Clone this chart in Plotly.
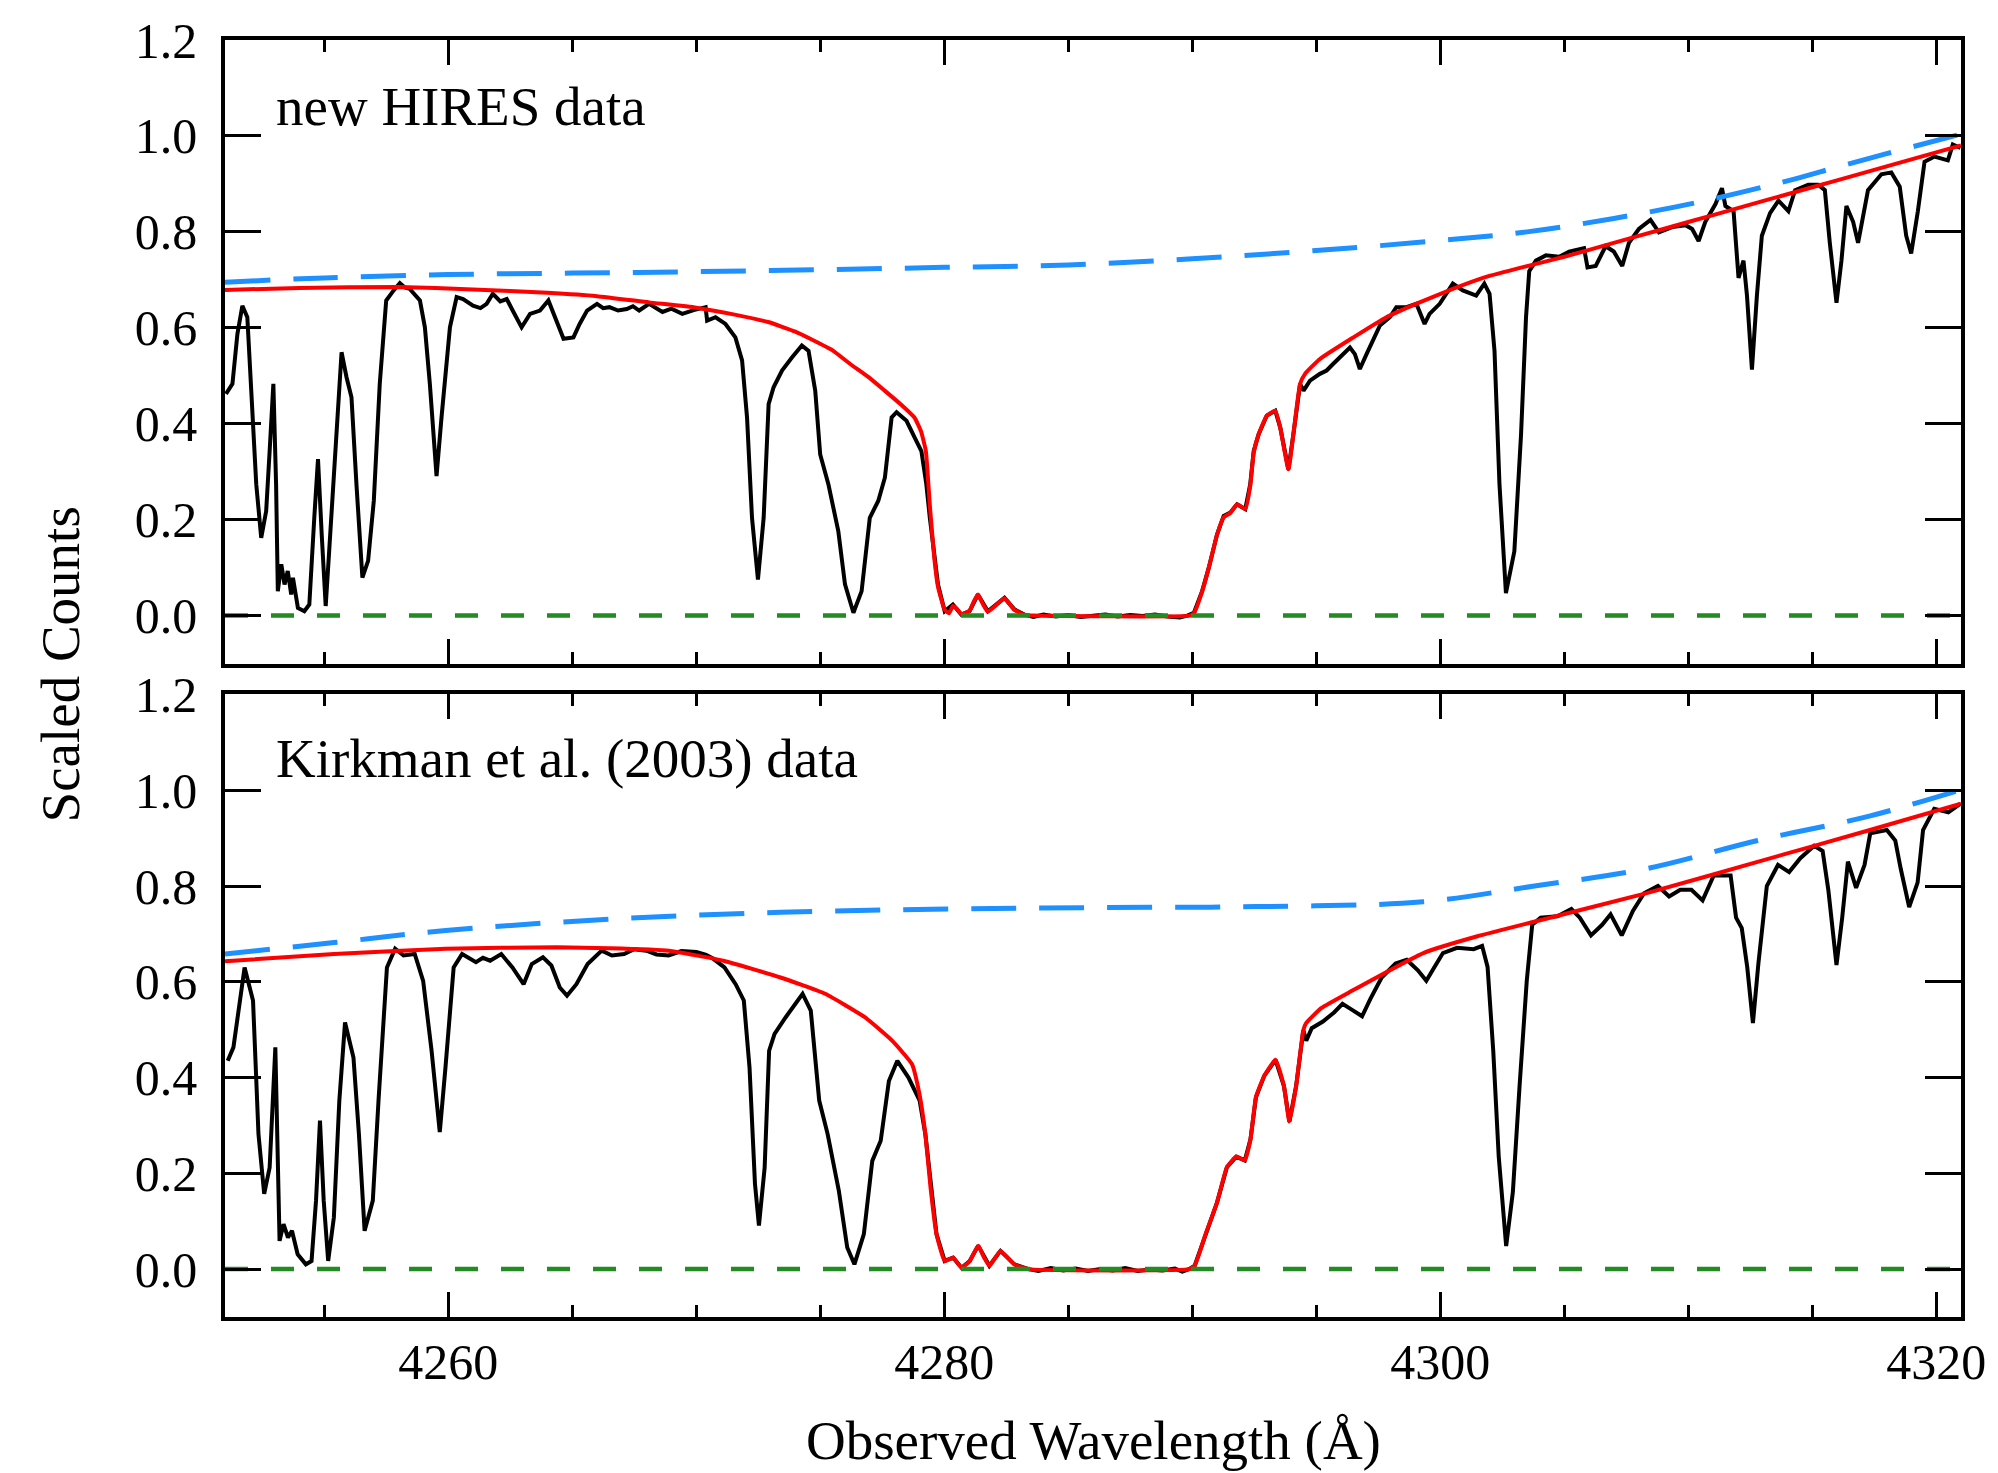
import plotly.graph_objects as go

# ---------------- data ----------------
# Top panel: new HIRES data
top_wave = [4251.04, 4251.30, 4251.50, 4251.70, 4251.90, 4252.10, 4252.26, 4252.46, 4252.66, 4252.80,
            4252.95, 4253.06, 4253.13, 4253.27, 4253.40, 4253.53, 4253.67, 4253.74, 4253.94, 4254.20,
            4254.40, 4254.60, 4254.75, 4254.90, 4255.06, 4255.20, 4255.40, 4255.70, 4255.90, 4256.10,
            4256.30, 4256.54, 4256.77, 4257.00, 4257.24, 4257.50, 4257.80, 4258.05, 4258.25, 4258.45,
            4258.86, 4259.06, 4259.26, 4259.53, 4259.73, 4260.07, 4260.34, 4260.60, 4261.00, 4261.30,
            4261.55, 4261.80, 4262.10, 4262.36, 4262.60, 4262.96, 4263.30, 4263.70, 4264.04, 4264.30,
            4264.65, 4265.05, 4265.30, 4265.60, 4266.00, 4266.25, 4266.50, 4266.85, 4267.20, 4267.45,
            4267.70, 4268.10, 4268.40, 4268.64, 4269.00, 4269.44, 4269.90, 4270.38, 4270.44, 4270.78,
            4271.18, 4271.58, 4271.85, 4272.05, 4272.25, 4272.49, 4272.72, 4272.92, 4273.12, 4273.46,
            4273.86, 4274.26, 4274.53, 4274.80, 4275.00, 4275.33, 4275.73, 4276.00, 4276.34, 4276.67,
            4277.00, 4277.34, 4277.61, 4277.88, 4278.08, 4278.48, 4278.81, 4279.08, 4279.28, 4279.42,
            4279.75, 4280.02, 4280.35, 4280.69, 4281.02, 4281.36, 4281.76, 4282.10, 4282.43, 4282.83,
            4283.23, 4283.60, 4284.00, 4284.50, 4285.00, 4285.50, 4286.00, 4286.50, 4287.00, 4287.50,
            4288.00, 4288.50, 4289.00, 4289.50, 4289.80, 4290.07, 4290.40, 4290.67, 4291.00, 4291.27,
            4291.54, 4291.81, 4292.14, 4292.34, 4292.48, 4292.68, 4293.01, 4293.35, 4293.55, 4293.88,
            4294.08, 4294.35, 4294.49, 4294.75, 4295.15, 4295.42, 4295.69, 4296.09, 4296.36, 4296.56,
            4296.76, 4297.03, 4297.30, 4297.57, 4297.97, 4298.23, 4298.64, 4299.04, 4299.37, 4299.57,
            4299.98, 4300.24, 4300.51, 4300.91, 4301.45, 4301.78, 4301.99, 4302.19, 4302.39, 4302.65,
            4302.99, 4303.26, 4303.46, 4303.59, 4303.86, 4304.26, 4304.80, 4305.20, 4305.80, 4305.94,
            4306.27, 4306.67, 4307.00, 4307.34, 4307.61, 4308.01, 4308.48, 4308.82, 4309.35, 4309.89,
            4310.16, 4310.42, 4310.69, 4311.10, 4311.36, 4311.50, 4311.83, 4312.03, 4312.23, 4312.37,
            4312.57, 4312.77, 4312.97, 4313.30, 4313.64, 4314.04, 4314.31, 4314.84, 4315.25, 4315.51,
            4315.71, 4315.98, 4316.18, 4316.38, 4316.65, 4316.85, 4317.25, 4317.79, 4318.19, 4318.53,
            4318.79, 4318.99, 4319.26, 4319.53, 4319.93, 4320.47, 4320.67, 4320.98]
top_flux = [0.462, 0.483, 0.587, 0.646, 0.622, 0.448, 0.274, 0.162, 0.218, 0.343,
            0.483, 0.274, 0.051, 0.107, 0.065, 0.093, 0.044, 0.079, 0.016, 0.009,
            0.023, 0.204, 0.326, 0.169, 0.020, 0.134, 0.309, 0.549, 0.497, 0.455,
            0.274, 0.079, 0.114, 0.239, 0.483, 0.657, 0.678, 0.693, 0.684, 0.681,
            0.657, 0.601, 0.483, 0.291, 0.413, 0.601, 0.664, 0.660, 0.646, 0.641,
            0.650, 0.671, 0.655, 0.660, 0.636, 0.601, 0.629, 0.636, 0.657, 0.622,
            0.577, 0.580, 0.608, 0.636, 0.650, 0.641, 0.643, 0.636, 0.639, 0.645,
            0.636, 0.650, 0.641, 0.633, 0.640, 0.629, 0.637, 0.643, 0.615, 0.622,
            0.608, 0.580, 0.532, 0.413, 0.204, 0.075, 0.204, 0.441, 0.476, 0.511,
            0.538, 0.563, 0.552, 0.469, 0.336, 0.274, 0.176, 0.065, 0.006, 0.051,
            0.204, 0.239, 0.288, 0.413, 0.424, 0.406, 0.371, 0.343, 0.274, 0.204,
            0.065, 0.009, 0.023, 0.002, 0.009, 0.044, 0.009, 0.023, 0.037, 0.013,
            0.002, -0.003, 0.002, -0.002, 0.001, -0.003, 0.000, 0.002, -0.002, 0.001,
            -0.001, 0.002, -0.002, -0.004, 0.000, 0.006, 0.051, 0.100, 0.169, 0.208,
            0.215, 0.232, 0.222, 0.274, 0.343, 0.378, 0.417, 0.427, 0.392, 0.305,
            0.378, 0.483, 0.469, 0.490, 0.504, 0.511, 0.525, 0.545, 0.559, 0.545,
            0.514, 0.545, 0.573, 0.605, 0.622, 0.643, 0.643, 0.650, 0.608, 0.629,
            0.650, 0.671, 0.692, 0.678, 0.667, 0.692, 0.671, 0.552, 0.274, 0.047,
            0.134, 0.378, 0.622, 0.718, 0.740, 0.751, 0.748, 0.759, 0.766, 0.726,
            0.729, 0.770, 0.759, 0.729, 0.777, 0.806, 0.825, 0.799, 0.810, 0.814,
            0.806, 0.781, 0.821, 0.858, 0.891, 0.854, 0.843, 0.704, 0.740, 0.667,
            0.513, 0.667, 0.792, 0.839, 0.865, 0.843, 0.887, 0.898, 0.898, 0.887,
            0.777, 0.652, 0.740, 0.854, 0.821, 0.777, 0.887, 0.920, 0.924, 0.894,
            0.792, 0.755, 0.843, 0.946, 0.957, 0.949, 0.982, 0.975]

top_model_wave = [4251.0, 4254.0, 4258.0, 4261.0, 4264.0, 4266.0, 4268.1, 4270.0, 4271.5, 4272.9,
                  4274.0, 4274.6, 4275.5, 4276.2, 4277.0, 4277.6, 4278.3, 4278.8, 4279.06, 4279.26,
                  4279.42, 4279.60, 4279.75, 4280.02, 4280.20, 4280.35, 4280.50, 4280.69, 4281.02, 4281.20,
                  4281.36, 4281.55, 4281.76, 4282.10, 4282.43, 4282.83, 4283.23, 4283.60, 4289.90, 4290.07,
                  4290.40, 4290.67, 4291.00, 4291.27, 4291.54, 4291.81, 4292.14, 4292.34, 4292.48, 4292.68,
                  4293.01, 4293.35, 4293.55, 4293.88, 4294.08, 4294.35, 4294.55, 4295.15, 4296.50, 4297.83,
                  4299.17, 4300.51, 4301.85, 4303.46, 4305.0, 4307.0, 4309.0, 4311.0, 4313.0, 4315.0,
                  4317.0, 4319.0, 4321.0]
top_model_flux = [0.679, 0.683, 0.685, 0.680, 0.673, 0.666, 0.653, 0.642, 0.628, 0.612,
                  0.592, 0.577, 0.553, 0.525, 0.495, 0.469, 0.438, 0.413, 0.385, 0.343,
                  0.230, 0.120, 0.060, 0.012, 0.005, 0.020, 0.015, 0.003, 0.010, 0.030,
                  0.044, 0.025, 0.008, 0.022, 0.036, 0.012, 0.002, 0.000, 0.000, 0.005,
                  0.050, 0.100, 0.168, 0.205, 0.214, 0.232, 0.222, 0.270, 0.340, 0.378,
                  0.417, 0.427, 0.392, 0.305, 0.378, 0.483, 0.504, 0.535, 0.580, 0.622,
                  0.653, 0.681, 0.706, 0.728, 0.748, 0.777, 0.806, 0.835, 0.864, 0.893,
                  0.922, 0.951, 0.980]

top_cont_wave = [4251, 4255, 4260, 4265, 4270, 4275, 4280, 4285, 4290, 4295,
                 4300, 4303.5, 4307, 4310.6, 4314.2, 4316, 4318, 4321]
top_cont_flux = [0.695, 0.704, 0.711, 0.714, 0.717, 0.721, 0.726, 0.731, 0.744, 0.761,
                 0.782, 0.800, 0.828, 0.864, 0.909, 0.935, 0.963, 1.004]

# Bottom panel: Kirkman et al. (2003) data
bot_wave = [4251.11, 4251.34, 4251.79, 4252.13, 4252.35, 4252.58, 4252.80, 4253.03, 4253.20, 4253.36,
            4253.54, 4253.70, 4253.93, 4254.26, 4254.49, 4254.67, 4254.83, 4254.98, 4255.16, 4255.39,
            4255.61, 4255.84, 4256.18, 4256.40, 4256.63, 4256.96, 4257.19, 4257.53, 4257.86, 4258.20,
            4258.65, 4258.99, 4259.33, 4259.66, 4259.89, 4260.22, 4260.56, 4261.12, 4261.40, 4261.69,
            4262.14, 4262.59, 4263.04, 4263.37, 4263.82, 4264.16, 4264.50, 4264.79, 4265.17, 4265.62,
            4266.19, 4266.60, 4267.09, 4267.50, 4267.99, 4268.40, 4268.89, 4269.40, 4270.01, 4270.40,
            4270.69, 4271.14, 4271.59, 4271.92, 4272.15, 4272.37, 4272.53, 4272.76, 4272.94, 4273.16,
            4273.61, 4274.29, 4274.62, 4274.96, 4275.30, 4275.75, 4276.09, 4276.38, 4276.76, 4277.10,
            4277.44, 4277.77, 4278.11, 4278.56, 4279.01, 4279.24, 4279.69, 4280.02, 4280.36, 4280.70,
            4281.03, 4281.37, 4281.82, 4282.27, 4282.83, 4283.40, 4283.80, 4284.30, 4284.80, 4285.30,
            4285.80, 4286.30, 4286.80, 4287.30, 4287.80, 4288.30, 4288.80, 4289.30, 4289.60, 4289.87,
            4290.10, 4290.54, 4291.00, 4291.40, 4291.78, 4292.12, 4292.35, 4292.57, 4292.91, 4293.36,
            4293.70, 4293.92, 4294.19, 4294.48, 4294.60, 4294.82, 4295.27, 4295.72, 4296.06, 4296.40,
            4296.85, 4297.19, 4297.64, 4298.20, 4298.65, 4299.10, 4299.44, 4299.77, 4300.11, 4300.68,
            4301.35, 4301.69, 4301.91, 4302.14, 4302.36, 4302.66, 4302.93, 4303.20, 4303.49, 4303.71,
            4304.05, 4304.73, 4305.29, 4305.63, 4306.08, 4306.53, 4306.87, 4307.32, 4307.77, 4308.22,
            4308.78, 4309.23, 4309.68, 4310.13, 4310.58, 4311.03, 4311.71, 4311.93, 4312.16, 4312.38,
            4312.61, 4312.83, 4313.17, 4313.62, 4314.07, 4314.52, 4315.08, 4315.42, 4315.65, 4315.98,
            4316.21, 4316.44, 4316.77, 4317.11, 4317.34, 4318.01, 4318.35, 4318.57, 4318.91, 4319.25,
            4319.47, 4319.92, 4320.49, 4320.98]
bot_flux = [0.435, 0.463, 0.630, 0.561, 0.282, 0.157, 0.212, 0.463, 0.059, 0.094,
            0.066, 0.080, 0.031, 0.010, 0.017, 0.143, 0.310, 0.143, 0.017, 0.108,
            0.352, 0.515, 0.442, 0.282, 0.080, 0.143, 0.352, 0.630, 0.669, 0.655,
            0.658, 0.602, 0.456, 0.286, 0.421, 0.630, 0.658, 0.641, 0.650, 0.644,
            0.658, 0.630, 0.595, 0.637, 0.651, 0.634, 0.588, 0.571, 0.595, 0.637,
            0.665, 0.655, 0.658, 0.668, 0.665, 0.657, 0.655, 0.664, 0.662, 0.656,
            0.648, 0.630, 0.595, 0.561, 0.421, 0.178, 0.091, 0.212, 0.456, 0.491,
            0.526, 0.575, 0.540, 0.352, 0.282, 0.164, 0.045, 0.010, 0.073, 0.226,
            0.268, 0.393, 0.435, 0.400, 0.352, 0.282, 0.073, 0.017, 0.024, 0.003,
            0.017, 0.049, 0.007, 0.038, 0.010, 0.000, -0.004, 0.002, -0.003, 0.001,
            -0.004, 0.000, -0.003, 0.002, -0.004, -0.001, -0.003, 0.001, -0.005, 0.000,
            0.007, 0.073, 0.139, 0.213, 0.235, 0.227, 0.271, 0.359, 0.404, 0.437,
            0.382, 0.308, 0.382, 0.499, 0.477, 0.503, 0.517, 0.536, 0.554, 0.543,
            0.528, 0.565, 0.609, 0.638, 0.646, 0.624, 0.602, 0.631, 0.660, 0.671,
            0.668, 0.675, 0.631, 0.455, 0.235, 0.048, 0.161, 0.382, 0.602, 0.719,
            0.734, 0.737, 0.752, 0.734, 0.697, 0.719, 0.741, 0.697, 0.748, 0.785,
            0.800, 0.778, 0.792, 0.792, 0.770, 0.822, 0.822, 0.734, 0.712, 0.631,
            0.514, 0.638, 0.800, 0.844, 0.829, 0.858, 0.884, 0.873, 0.792, 0.635,
            0.734, 0.851, 0.796, 0.844, 0.910, 0.917, 0.895, 0.836, 0.756, 0.807,
            0.917, 0.961, 0.954, 0.972]

bot_model_wave = [4251.0, 4255.4, 4259.9, 4264.4, 4266.5, 4268.9, 4271.1, 4273.4, 4275.2, 4276.8,
                  4277.9, 4278.7, 4279.0, 4279.24, 4279.45, 4279.69, 4280.02, 4280.36, 4280.70, 4281.03,
                  4281.37, 4281.60, 4281.82, 4282.27, 4282.83, 4283.40, 4289.87, 4290.10, 4290.54, 4291.00,
                  4291.40, 4291.78, 4292.12, 4292.35, 4292.57, 4292.91, 4293.36, 4293.70, 4293.92, 4294.19,
                  4294.48, 4294.60, 4295.20, 4296.40, 4299.32, 4301.50, 4303.83, 4308.33, 4312.83, 4317.33,
                  4321.0]
bot_model_flux = [0.643, 0.658, 0.669, 0.672, 0.670, 0.665, 0.644, 0.609, 0.575, 0.526,
                  0.477, 0.428, 0.366, 0.282, 0.170, 0.073, 0.017, 0.024, 0.003, 0.017,
                  0.049, 0.025, 0.007, 0.038, 0.010, 0.000, 0.000, 0.007, 0.073, 0.139,
                  0.213, 0.235, 0.227, 0.271, 0.359, 0.404, 0.437, 0.382, 0.308, 0.382,
                  0.499, 0.514, 0.545, 0.580, 0.660, 0.695, 0.726, 0.785, 0.851, 0.917,
                  0.972]

bot_cont_wave = [4251.0, 4255.4, 4259.9, 4266.6, 4273.4, 4280.1, 4286.0, 4292.6, 4299.3, 4303.8,
                 4308.3, 4312.8, 4317.3, 4321.0]
bot_cont_flux = [0.658, 0.682, 0.707, 0.731, 0.745, 0.752, 0.755, 0.757, 0.767, 0.800,
                 0.836, 0.895, 0.946, 1.001]

zero_wave = [4251.0, 4321.0]
zero_flux = [0.0, 0.0]

panel_labels = ["new HIRES data", "Kirkman et al. (2003) data"]
x_ticks = [4260, 4280, 4300, 4320]
y_ticks = [0.0, 0.2, 0.4, 0.6, 0.8, 1.0, 1.2]

# ---------------- figure ----------------
FONT = "Liberation Serif"
BLACK = "#000000"
RED = "#ff0000"
BLUE = "#1e90ff"
GREEN = "#228b22"

fig = go.Figure()

panels = [
    ("x", "y", top_wave, top_flux, top_model_wave, top_model_flux, top_cont_wave, top_cont_flux),
    ("x2", "y2", bot_wave, bot_flux, bot_model_wave, bot_model_flux, bot_cont_wave, bot_cont_flux),
]
for xa, ya, w, f, mw, mf, cw, cf in panels:
    fig.add_trace(go.Scatter(x=w, y=f, mode="lines", line=dict(color=BLACK, width=4),
                             xaxis=xa, yaxis=ya, showlegend=False, hoverinfo="skip"))
    fig.add_trace(go.Scatter(x=mw, y=mf, mode="lines",
                             line=dict(color=RED, width=4, shape="spline", smoothing=0.4),
                             xaxis=xa, yaxis=ya, showlegend=False, hoverinfo="skip"))
    fig.add_trace(go.Scatter(x=cw, y=cf, mode="lines",
                             line=dict(color=BLUE, width=5, dash="45px,23px", shape="spline"),
                             xaxis=xa, yaxis=ya, showlegend=False, hoverinfo="skip"))
    fig.add_trace(go.Scatter(x=zero_wave, y=zero_flux, mode="lines",
                             line=dict(color=GREEN, width=4.5, dash="23px,23px"),
                             xaxis=xa, yaxis=ya, showlegend=False, hoverinfo="skip"))

xcommon = dict(range=[4251, 4321], tickvals=x_ticks, ticks="inside", ticklen=25, tickwidth=3,
               tickcolor=BLACK, showline=True, linewidth=3.5, linecolor=BLACK, mirror="ticks",
               showgrid=False, zeroline=False,
               minor=dict(dtick=5, tick0=4250, ticks="inside", ticklen=12, tickwidth=3, tickcolor=BLACK),
               tickfont=dict(family=FONT, size=50, color=BLACK), ticklabelstandoff=-2)
ycommon = dict(range=[-0.1, 1.2], tickvals=y_ticks, tickformat=".1f", ticks="inside", ticklen=36,
               tickwidth=3, tickcolor=BLACK, showline=True, linewidth=3.5, linecolor=BLACK,
               mirror="ticks", showgrid=False, zeroline=False,
               tickfont=dict(family=FONT, size=50, color=BLACK), ticklabelstandoff=14)

fig.update_layout(
    width=1998, height=1473,
    margin=dict(l=225, r=29, t=39, b=156),
    paper_bgcolor="white", plot_bgcolor="white",
    xaxis=dict(**xcommon, anchor="y", domain=[0, 1], showticklabels=False),
    yaxis=dict(**ycommon, anchor="x", domain=[0.5117, 1.0]),
    xaxis2=dict(**xcommon, anchor="y2", domain=[0, 1]),
    yaxis2=dict(**ycommon, anchor="x2", domain=[0.0, 0.4875]),
)

ann_font = dict(family=FONT, size=55, color=BLACK)
fig.add_annotation(x=4252.97, y=1.061, xref="x", yref="y", text=panel_labels[0], showarrow=False,
                   xanchor="left", yanchor="middle", font=ann_font)
fig.add_annotation(x=4252.97, y=1.066, xref="x2", yref="y2", text=panel_labels[1], showarrow=False,
                   xanchor="left", yanchor="middle", font=ann_font)
title_font = dict(family=FONT, size=55, color=BLACK)
fig.add_annotation(x=0.5, y=-0.097, xref="paper", yref="paper", text="Observed Wavelength (Å)",
                   showarrow=False, xanchor="center", yanchor="middle", font=title_font)
fig.add_annotation(x=-0.0947, y=0.5107, xref="paper", yref="paper", text="Scaled Counts",
                   showarrow=False, xanchor="center", yanchor="middle", textangle=-90, font=title_font)

# remove the default 8 px page margin so the figure sits exactly in the window
fig.write_html("out.html", config={"displayModeBar": False},
               post_script="document.body.style.margin='0';document.body.style.overflow='hidden';")
